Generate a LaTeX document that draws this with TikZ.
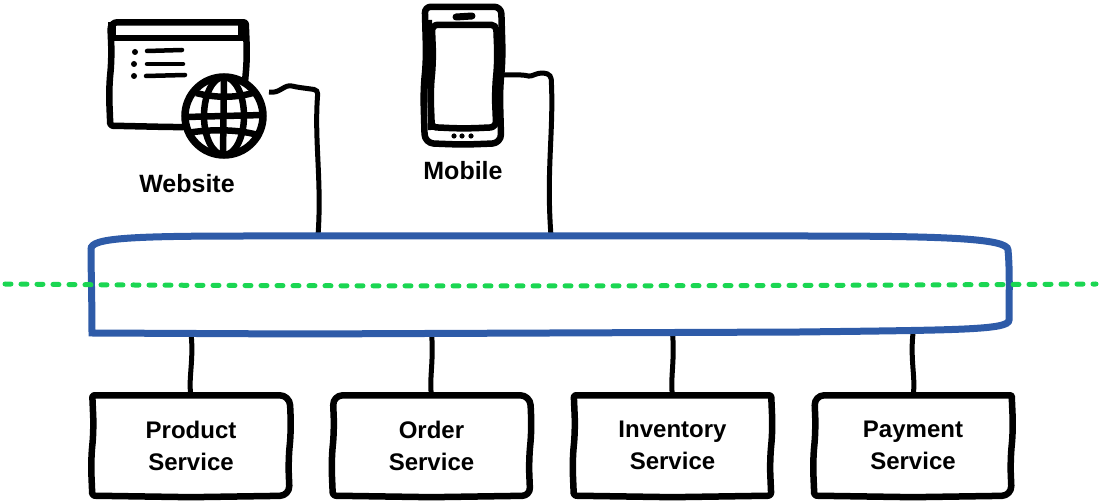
\documentclass[tikz,border=0pt]{standalone}
\usepackage{fontspec}
\setmainfont{Liberation Sans}

\newcommand{\wobblebox}[5]{%
	\draw[line width=6.5pt,line join=round]
		(#1.north) [rounded corners=#2] -- (#1.north east)
		[rounded corners=14pt] -- ([xshift=1.5pt,yshift=15pt]#1.east) -- ([xshift=-1.5pt,yshift=-15pt]#1.east)
		[rounded corners=#3] -- (#1.south east)
		[rounded corners=14pt] -- ([yshift=-1.5pt]#1.south)
		[rounded corners=#4] -- (#1.south west)
		[rounded corners=14pt] -- ([xshift=-1.5pt,yshift=-15pt]#1.west) -- ([xshift=1.5pt,yshift=15pt]#1.west)
		[rounded corners=#5] -- (#1.north west) -- cycle;}

\begin{document}
\begin{tikzpicture}[
		x=1pt,y=-1pt,
		service/.style={minimum width=197pt,minimum height=100pt,align=center,font=\fontsize{24}{32}\selectfont\bfseries},
		caption/.style={font=\fontsize{25}{30}\selectfont\bfseries},
		wire/.style={line width=5pt,rounded corners=4pt},
		ink/.style={line width=4.5pt,line cap=round},
		grid/.style={line width=6.5pt}]
		\useasboundingbox (0,0) rectangle (1106,502);
		
		\node[minimum width=135pt,minimum height=103pt] (browser) at (178,74) {};
		\wobblebox{browser}{2pt}{3pt}{2pt}{7pt}
		\draw[line width=6.5pt] (113,38) -- (244,38);
		\fill (108,22) rectangle (116,38);
		\fill (238,22) rectangle (246,38);
		\draw[ink] (147,51) -- (182,50);
		\draw[ink] (147,64) -- (183,64);
		\draw[ink] (146,76) -- (185,75);
		\fill (135,52) circle (3);
		\fill (134,64) circle (3);
		\fill (134,76) circle (3);
		
		\node[circle,draw,fill=white,line width=7.5pt,minimum size=78pt] (globe) at (224,116) {};
		\draw[grid] (globe.center) ellipse (20pt and 39pt);
		\draw[grid] (224,77) -- (223,156);
		\draw[grid] (186,117) -- (263,115);
		\draw[grid] (196,93) .. controls (215,98) and (235,98) .. (253,93);
		\draw[grid] (187,133) .. controls (210,129) and (240,129) .. (261,136);
		
		\node[minimum width=76pt,minimum height=136pt] (phone) at (463,75) {};
		\node[minimum width=64pt,minimum height=102pt] (screen) at (464,76) {};
		\wobblebox{phone}{7pt}{9pt}{9pt}{6pt}
		\wobblebox{screen}{5pt}{6pt}{4pt}{6pt}
		\draw[line width=6pt] (429,20) -- (431,130);
		\draw[line width=7pt,line cap=round] (456,17) -- (472,16);
		\fill (454,136) circle (2.6);
		\fill (462,136) circle (2.6);
		\fill (471,136) circle (2.6);
		
		\node[caption] (website) at (187,184) {Website};
		\node[caption] (mobile) at (463,171) {Mobile};
		
		\node[minimum width=919pt,minimum height=97pt] (bus) at (550,284.5) {};
		\node[service] (product) at (191,445.5) {Product\\Service};
		\node[service] (order) at (431.5,445.5) {Order\\Service};
		\node[service] (inventory) at (672.5,445.5) {Inventory\\Service};
		\node[service] (payment) at (913,445.5) {Payment\\Service};
		\wobblebox{product}{10pt}{10pt}{2pt}{2pt}
		\wobblebox{order}{10pt}{8pt}{3pt}{10pt}
		\wobblebox{inventory}{2pt}{3pt}{2pt}{2pt}
		\wobblebox{payment}{1pt}{10pt}{2pt}{10pt}
		
		\coordinate (webout) at (269,92);
		\coordinate (webdown) at (318,90);
		\coordinate (mobiledown) at (551,75);
		\draw[wire] (webout) .. controls (280,94) and (284,84) .. (296,87) -- (webdown) .. controls (314,140) and (322,180) .. (bus.north -| webdown);
		\draw[wire] (phone.east) -- (525,75) .. controls (532,77) and (538,71) .. (mobiledown) .. controls (554,130) and (546,170) .. (bus.north -| mobiledown);
		\draw[wire] (product.north) .. controls (188,380) and (194,360) .. (bus.south -| product.north);
		\draw[wire] (order.north) .. controls (429,380) and (434,360) .. (bus.south -| order.north);
		\draw[wire] (inventory.north) .. controls (670,380) and (675,360) .. (bus.south -| inventory.north);
		\draw[wire] (payment.north) .. controls (916,380) and (910,360) .. (bus.south -| payment.north);
		
		\draw[line width=7pt,draw={rgb,255:red,46;green,91;blue,168}] (92,333) .. controls (92,300) and (91,270) .. (91,249) .. controls (91,238) and (130,236) .. (250,236) -- (800,236) .. controls (940,236) and (1008,238) .. (1008,250) .. controls (1010,270) and (1009,300) .. (1009,320) .. controls (1009,330) and (960,330) .. (800,332) -- (300,334) -- cycle;
		
		\coordinate (lineleft) at (5,284);
		\coordinate (lineright) at (1096,284);
		\draw[line width=5pt,line cap=round,dash pattern=on 6pt off 10pt,draw={rgb,255:red,27;green,214;blue,82}] (lineleft) .. controls (300,287) and (800,286) .. (lineright);
		
	\end{tikzpicture}
\end{document}
